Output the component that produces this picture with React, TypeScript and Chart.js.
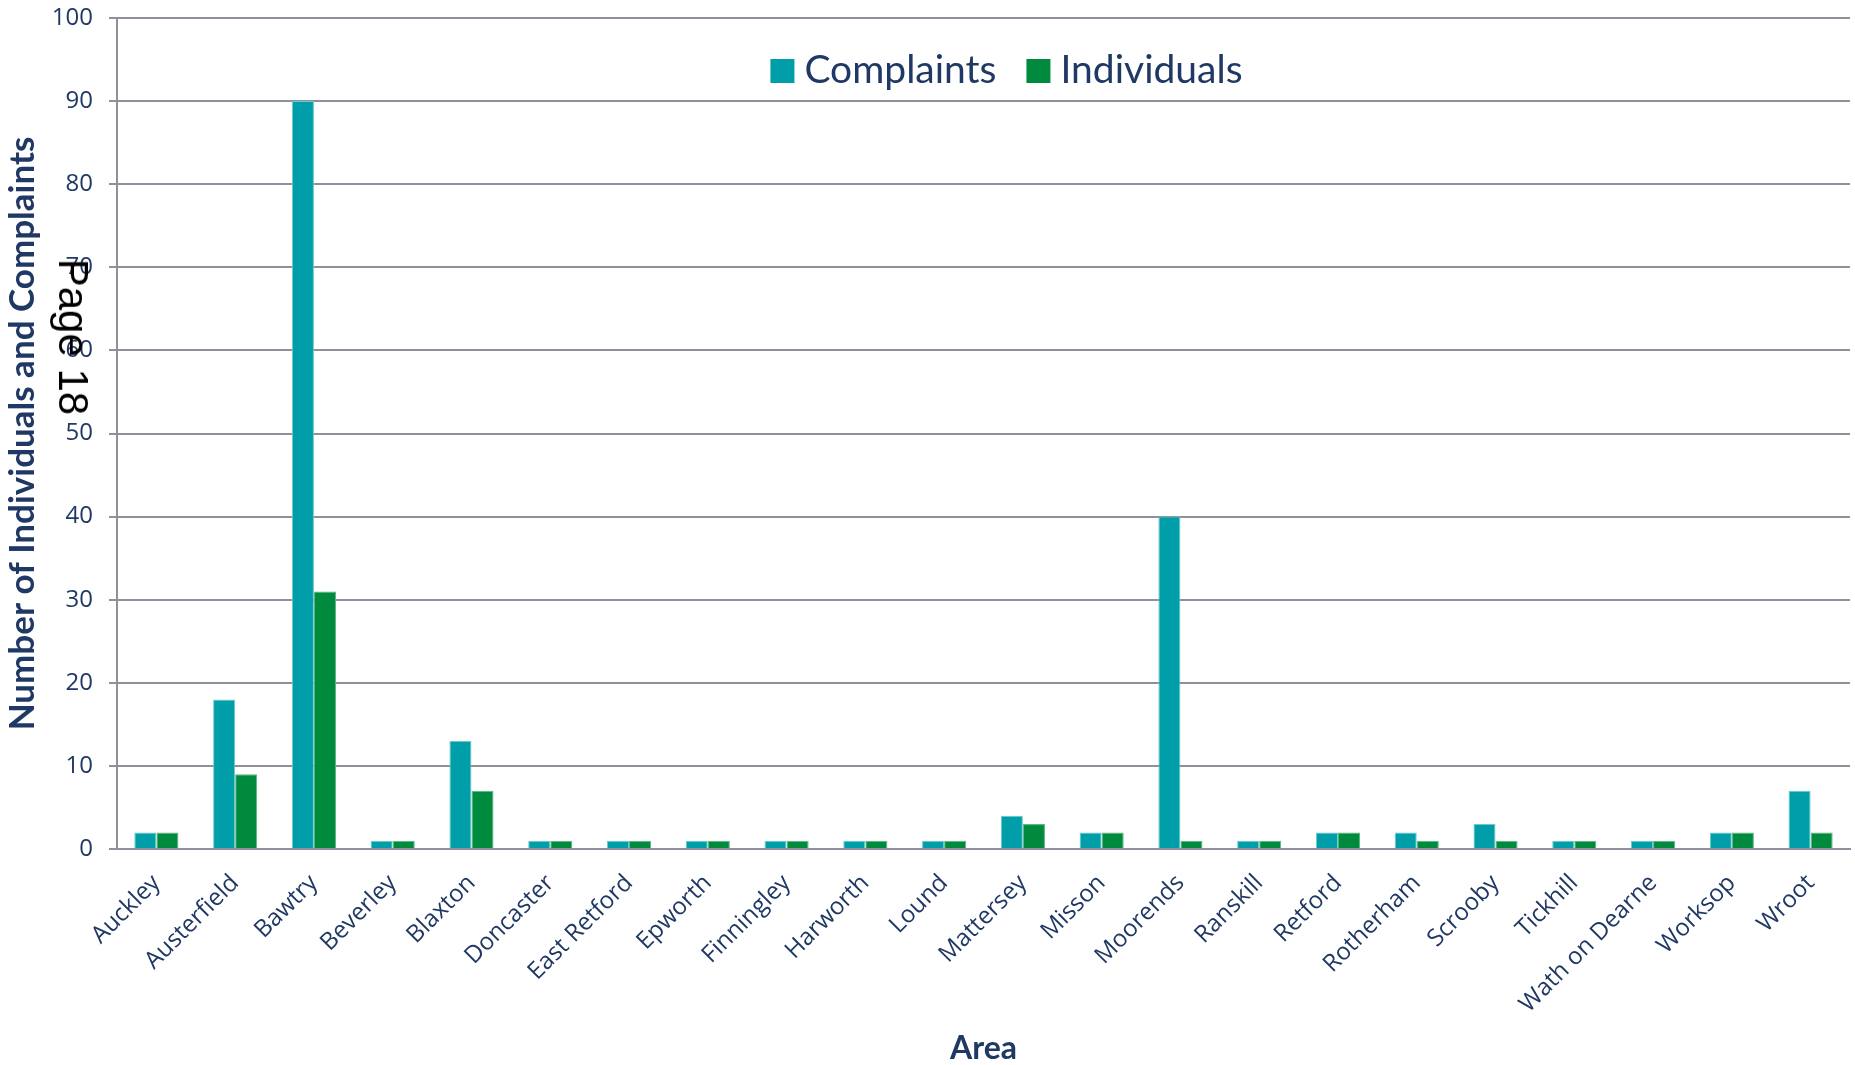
import React, { useEffect, useRef } from 'react';
import { Chart, registerables } from 'chart.js';

Chart.register(...registerables);

const areas = [
  'Auckley', 'Austerfield', 'Bawtry', 'Beverley', 'Blaxton', 'Doncaster', 'East Retford',
  'Epworth', 'Finningley', 'Harworth', 'Lound', 'Mattersey', 'Misson', 'Moorends',
  'Ranskill', 'Retford', 'Rotherham', 'Scrooby', 'Tickhill', 'Wath on Dearne', 'Worksop', 'Wroot',
];
const complaints = [2, 18, 90, 1, 13, 1, 1, 1, 1, 1, 1, 4, 2, 40, 1, 2, 2, 3, 1, 1, 2, 7];
const individuals = [2, 9, 31, 1, 7, 1, 1, 1, 1, 1, 1, 3, 2, 1, 1, 2, 1, 1, 1, 1, 2, 2];
const seriesNames = ['Complaints', 'Individuals'];
const yMin = 0;
const yMax = 100;
const yStep = 10;
const xTitle = 'Area';
const yTitle = 'Number of Individuals and Complaints';
const pageMark = 'Page 18';

const NAVY = '#1f3864';
const GRID = '#8e919c';
const TEAL = '#009ea8';
const GREEN = '#008a3e';

const insideLegend = {
  id: 'insideLegend',
  afterDatasetsDraw(chart: any) {
    const { ctx, chartArea } = chart;
    ctx.save();
    ctx.font = '39px Lato';
    const box = 24;
    const gapText = 10;
    const gapItem = 30;
    const items = chart.data.datasets.map((ds: any) => ({
      label: ds.label,
      color: ds.backgroundColor,
      w: ctx.measureText(ds.label).width,
    }));
    const total =
      items.reduce((s: number, it: any) => s + box + gapText + it.w, 0) + gapItem * (items.length - 1);
    let x = chartArea.left + (chartArea.width - total) / 2 + 23;
    const boxTop = chartArea.top + 41;
    items.forEach((it: any) => {
      ctx.fillStyle = it.color;
      ctx.fillRect(x, boxTop, box, box);
      x += box + gapText;
      ctx.fillStyle = NAVY;
      ctx.textBaseline = 'alphabetic';
      ctx.textAlign = 'left';
      ctx.fillText(it.label, x, boxTop + box);
      x += it.w + gapItem;
    });
    ctx.restore();
  },
};

export default function App() {
  const canvasRef = useRef<HTMLCanvasElement | null>(null);

  useEffect(() => {
    document.body.style.margin = '0';
    const canvas = canvasRef.current;
    if (!canvas) return;
    const chart = new Chart(canvas, {
      type: 'bar',
      data: {
        labels: areas,
        datasets: [
          {
            label: seriesNames[0],
            data: complaints,
            backgroundColor: TEAL,
            borderColor: '#6cc9cf',
            borderWidth: 1,
            categoryPercentage: 0.56,
            barPercentage: 1,
          },
          {
            label: seriesNames[1],
            data: individuals,
            backgroundColor: GREEN,
            borderColor: '#5cb585',
            borderWidth: 1,
            categoryPercentage: 0.56,
            barPercentage: 1,
          },
        ],
      },
      options: {
        responsive: false,
        animation: false,
        devicePixelRatio: 1,
        layout: { padding: { top: 18, right: 5, left: 0, bottom: 0 } },
        plugins: {
          legend: { display: false },
          tooltip: { enabled: false },
        },
        scales: {
          x: {
            grid: { display: false, drawTicks: false },
            border: { display: true, color: GRID, width: 2 },
            ticks: {
              color: NAVY,
              font: { family: 'Open Sans', size: 24 },
              minRotation: 45,
              maxRotation: 45,
              autoSkip: false,
              padding: 20,
            },
            title: {
              display: true,
              text: xTitle,
              color: NAVY,
              font: { family: 'Lato', size: 32, weight: 'bold', lineHeight: 1 },
              padding: 0,
            },
            afterFit: (s: any) => {
              s.height = 216;
              s.paddingRight = 0;
            },
          },
          y: {
            min: yMin,
            max: yMax,
            grid: { color: GRID, lineWidth: 2, tickLength: 8, drawTicks: true },
            border: { display: true, color: GRID, width: 2 },
            ticks: {
              stepSize: yStep,
              color: NAVY,
              font: { family: 'Open Sans', size: 24 },
              padding: 16,
            },
            title: {
              display: true,
              text: yTitle,
              color: NAVY,
              font: { family: 'Lato', size: 35, weight: 'bold', lineHeight: 1 },
              padding: { top: 5, bottom: 0 },
            },
            afterFit: (s: any) => {
              s.width = 117;
              s.paddingTop = 0;
              s.paddingBottom = 0;
            },
          },
        },
      },
      plugins: [insideLegend],
    });
    return () => chart.destroy();
  }, []);

  return (
    <div style={{ position: 'absolute', left: 0, top: 0, width: 1855, height: 1065, background: '#fff' }}>
      <canvas ref={canvasRef} width={1855} height={1065} style={{ width: 1855, height: 1065, display: 'block' }} />
      <div
        style={{
          position: 'absolute',
          left: 73,
          top: 336.5,
          transform: 'translate(-50%, -50%) rotate(90deg)',
          fontFamily: '"Liberation Sans", Arial, sans-serif',
          fontSize: 42,
          lineHeight: 1,
          whiteSpace: 'nowrap',
          color: '#000',
        }}
      >
        {pageMark}
      </div>
    </div>
  );
}
